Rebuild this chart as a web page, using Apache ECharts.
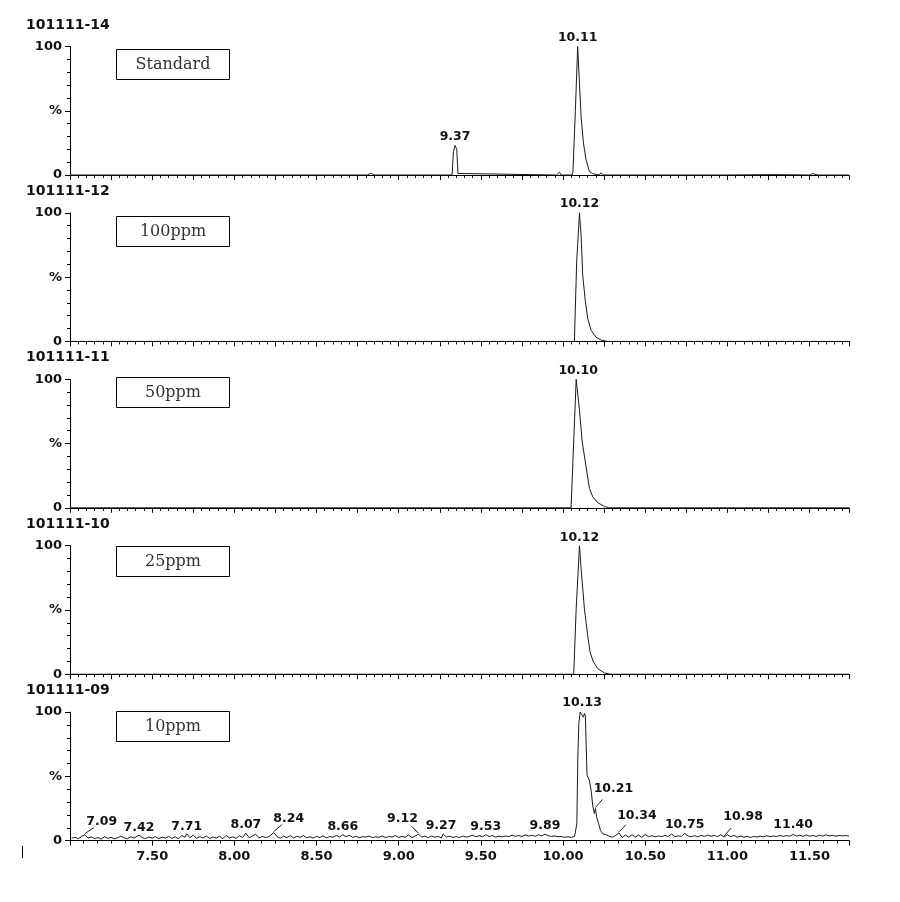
<!DOCTYPE html>
<html>
<head>
<meta charset="utf-8">
<script src="https://cdn.jsdelivr.net/npm/echarts@6/dist/echarts.min.js"></script>
<style>
html,body{margin:0;padding:0;background:#fff;}
#chart{width:900px;height:902px;}
</style>
</head>
<body>
<div id="chart"></div>
<script>
// ---------------- DATA ----------------
const panelNames = ['101111-14', '101111-12', '101111-11', '101111-10', '101111-09'];
const sampleNames = ['Standard', '100ppm', '50ppm', '25ppm', '10ppm'];
const xLabelsRange = [7.0, 11.74];

// retention time (min), relative intensity (%)
const traceStandard = [
  [7.00,0],[7.50,0],[8.00,0],[8.50,0],[8.81,0],[8.83,1.4],[8.85,0],
  [9.31,0],[9.325,0.3],[9.333,18],[9.343,23],[9.353,20],[9.361,1.2],[9.37,0],
  [9.96,0],[9.978,2.2],[9.99,0],[10.055,0],[10.060,2],[10.075,50],[10.089,100],
  [10.100,71],[10.110,45],[10.124,25],[10.140,12],[10.160,3],[10.181,1],[10.22,0],
  [10.232,1.8],[10.245,0],[10.60,0],[11.00,0],[11.28,0.3],[11.50,0],[11.52,1.1],
  [11.55,0],[11.74,0]
];
const trace100 = [
  [7.00,0],[9.00,0],[10.069,0],[10.083,62],[10.100,100],[10.110,82],[10.120,51],
  [10.136,31],[10.150,18],[10.171,8.5],[10.201,3.3],[10.232,1],[10.27,0],[11.74,0]
];
const trace50 = [
  [7.00,0],[9.00,0],[10.049,0],[10.065,52],[10.080,100],[10.089,99],[10.100,76],
  [10.116,52],[10.140,32],[10.161,15],[10.181,8.5],[10.211,4],[10.252,1],[10.28,0],[11.74,0]
];
const trace25 = [
  [7.00,0],[8.82,0],[8.83,1.2],[8.84,0],[10.065,0],[10.080,51],[10.100,100],
  [10.110,82],[10.130,51],[10.150,30],[10.165,17],[10.185,9.5],[10.211,4.4],[10.252,1],
  [10.29,0],[11.74,0]
];
const trace10 = [
  [7.01,1.8],[7.03,2.6],[7.05,1.5],[7.07,3.2],[7.09,4.6],[7.11,2.0],[7.13,2.8],[7.15,1.6],
  [7.17,2.4],[7.19,1.2],[7.21,3.0],[7.23,1.7],[7.25,2.5],[7.27,1.4],[7.29,2.2],[7.31,3.4],
  [7.33,2.1],[7.35,1.5],[7.37,3.0],[7.39,2.0],[7.42,4.2],[7.44,2.3],[7.46,1.6],[7.48,2.8],
  [7.50,1.9],[7.52,3.1],[7.54,1.5],[7.56,2.6],[7.58,2.0],[7.60,3.3],[7.62,1.7],[7.64,2.9],
  [7.66,1.4],[7.68,4.0],[7.70,2.6],[7.71,5.4],[7.73,2.2],[7.75,4.3],[7.77,1.8],[7.79,3.0],
  [7.81,2.1],[7.83,3.6],[7.85,1.6],[7.87,2.8],[7.89,2.0],[7.91,3.4],[7.93,1.5],[7.95,4.1],
  [7.97,2.0],[7.99,2.9],[8.01,1.7],[8.03,3.8],[8.05,2.4],[8.07,5.8],[8.09,2.2],[8.11,3.6],
  [8.13,5.0],[8.15,2.1],[8.17,3.3],[8.19,2.4],[8.21,3.0],[8.24,6.2],[8.26,3.1],[8.28,1.9],
  [8.30,3.5],[8.32,2.3],[8.34,4.0],[8.36,2.0],[8.38,3.4],[8.40,2.5],[8.42,3.9],[8.44,2.2],
  [8.46,3.0],[8.48,2.0],[8.50,3.3],[8.52,2.4],[8.54,3.6],[8.56,2.1],[8.58,3.2],[8.60,2.6],
  [8.62,4.0],[8.64,2.8],[8.66,4.6],[8.68,3.0],[8.70,4.2],[8.72,2.5],[8.74,3.4],[8.76,2.2],
  [8.78,3.1],[8.80,2.7],[8.82,3.5],[8.84,2.4],[8.86,3.0],[8.88,2.6],[8.90,3.6],[8.92,2.3],
  [8.94,3.2],[8.96,2.8],[8.98,3.9],[9.00,2.5],[9.02,3.3],[9.04,2.6],[9.06,4.4],[9.08,2.4],
  [9.10,3.5],[9.12,5.0],[9.14,2.8],[9.16,3.4],[9.18,2.2],[9.20,3.6],[9.22,2.6],[9.24,3.3],
  [9.26,2.0],[9.27,5.2],[9.29,2.7],[9.31,3.4],[9.33,2.5],[9.35,3.1],[9.37,2.4],[9.39,3.6],
  [9.41,2.7],[9.43,3.3],[9.45,4.2],[9.47,3.0],[9.49,3.8],[9.51,2.9],[9.53,4.6],[9.55,3.2],
  [9.57,3.9],[9.59,2.7],[9.61,3.4],[9.63,2.9],[9.65,3.6],[9.67,3.1],[9.69,4.3],[9.71,3.3],
  [9.73,4.0],[9.75,3.2],[9.77,4.4],[9.79,3.5],[9.81,4.1],[9.83,3.4],[9.85,4.6],[9.87,3.6],
  [9.89,5.0],[9.91,3.8],[9.93,3.3],[9.95,3.6],[9.97,3.0],[9.99,3.2],[10.01,2.6],[10.03,3.0],
  [10.05,2.5],[10.07,3.2],[10.080,2.6],[10.084,13],[10.090,65],[10.096,91],[10.104,100],
  [10.114,98],[10.124,96],[10.130,99],[10.136,97],[10.140,78],[10.146,51],[10.160,47],
  [10.171,39],[10.181,27],[10.191,21],[10.197,25],[10.205,18],[10.217,13],[10.228,7.8],
  [10.242,5.2],[10.262,4.7],[10.28,3.4],[10.30,2.6],[10.32,4.0],[10.34,6.0],[10.36,2.4],
  [10.38,4.3],[10.40,2.7],[10.42,4.6],[10.44,2.9],[10.46,4.2],[10.48,2.5],[10.50,4.8],
  [10.52,3.0],[10.54,3.8],[10.56,2.9],[10.58,3.6],[10.60,3.1],[10.62,4.0],[10.64,3.2],
  [10.66,5.2],[10.68,3.0],[10.70,3.7],[10.72,3.3],[10.74,5.6],[10.76,3.6],[10.78,3.0],
  [10.80,3.8],[10.82,2.9],[10.84,4.1],[10.86,3.2],[10.88,4.3],[10.90,3.4],[10.92,4.0],
  [10.94,3.1],[10.96,4.5],[10.98,2.8],[11.00,4.6],[11.02,3.0],[11.04,4.1],[11.06,2.6],
  [11.08,3.5],[11.10,2.7],[11.12,3.3],[11.14,2.5],[11.16,3.2],[11.18,2.8],[11.20,3.4],
  [11.22,2.9],[11.24,3.8],[11.26,3.0],[11.28,3.6],[11.30,3.2],[11.32,4.0],[11.34,3.3],
  [11.36,3.9],[11.38,3.4],[11.40,4.8],[11.42,3.5],[11.44,4.2],[11.46,3.3],[11.48,4.4],
  [11.50,3.4],[11.52,4.0],[11.54,3.2],[11.56,4.3],[11.58,3.5],[11.60,4.5],[11.62,3.6],
  [11.64,4.1],[11.66,3.4],[11.68,4.0],[11.70,3.7],[11.72,3.9],[11.74,3.6]
];
const traces = [traceStandard, trace100, trace50, trace25, trace10];

// peak annotations: [rt, intensity, label text]
const peaksStandard = [[9.343,23,'9.37'],[10.089,100,'10.11']];
const peaks100 = [[10.100,100,'10.12']];
const peaks50 = [[10.080,100,'10.10']];
const peaks25 = [[10.100,100,'10.12']];
const peaks10 = [
  [7.09,4.6,'7.09'],[7.42,4.2,'7.42'],[7.71,5.4,'7.71'],[8.07,5.8,'8.07'],[8.24,6.2,'8.24'],
  [8.66,4.6,'8.66'],[9.12,5.0,'9.12'],[9.27,5.2,'9.27'],[9.53,4.6,'9.53'],[9.89,5.0,'9.89'],
  [10.104,100,'10.13'],[10.197,25,'10.21'],[10.34,6.0,'10.34'],[10.74,5.6,'10.75'],
  [10.98,2.8,'10.98'],[11.40,4.8,'11.40']
];
const peaks = [peaksStandard, peaks100, peaks50, peaks25, peaks10];

// ---------------- LAYOUT / STYLE ----------------
// label offset in px from peak apex: [dx, dy, leaderDx, leaderDy] (leader null = none)
const labelLayouts = [
  [[0,-9,null,null],[0,-9,null,null]],
  [[0,-9,null,null]],
  [[2,-9,null,null]],
  [[0,-8,null,null]],
  [[17,-13,9,-7],[0,-7,null,null],[0,-7,null,null],[0,-8,null,null],[15,-14,8,-8],
   [0,-8,null,null],[-16,-15,-7,-8],[-2,-8,null,null],[0,-8,null,null],[0,-8,null,null],
   [2,-9,null,null],[18,-20,7,-9],[18,-17,7,-8],[0,-9,null,null],[19,-20,7,-9],[0,-10,null,null]]
];
const GRID_LEFT = 70, GRID_RIGHT = 51, GRID_TOP0 = 46.5, GRID_STEP = 166.4, GRID_H = 128.5;
const BOX_TOPS = [49, 216, 377, 546, 711];
const SANS = '"DejaVu Sans", sans-serif';
const INK = '#111';

const option = {
  animation: false,
  backgroundColor: '#ffffff',
  title: [], grid: [], xAxis: [], yAxis: [], series: [], graphic: []
};

for (let k = 0; k < 5; k++) {
  const top = GRID_TOP0 + k * GRID_STEP;
  const last = k === 4;
  option.grid.push({ left: GRID_LEFT, right: GRID_RIGHT, top: top, height: GRID_H });
  option.title.push({
    text: panelNames[k], left: 26, top: top - 28.5, padding: 0,
    textStyle: { fontFamily: SANS, fontWeight: 'bold', fontSize: 14, color: INK }
  });
  option.xAxis.push({
    type: 'value', gridIndex: k, min: xLabelsRange[0], max: xLabelsRange[1],
    interval: last ? 0.5 : 0.25,
    axisLine: { show: true, onZero: false, lineStyle: { color: '#000', width: 1 } },
    axisTick: { show: true, length: 5, lineStyle: { color: '#000', width: 1 } },
    minorTick: { show: true, splitNumber: last ? 6 : 5, length: 3, lineStyle: { color: '#000', width: 1 } },
    axisLabel: {
      show: last, showMinLabel: false, showMaxLabel: false, margin: 10,
      formatter: v => v.toFixed(2),
      fontFamily: SANS, fontWeight: 'bold', fontSize: 13, color: INK
    },
    splitLine: { show: false }, minorSplitLine: { show: false }
  });
  option.yAxis.push({
    type: 'value', gridIndex: k, min: 0, max: 100, interval: 50,
    axisLine: { show: true, onZero: false, lineStyle: { color: '#000', width: 1 } },
    axisTick: { show: true, length: 5, lineStyle: { color: '#000', width: 1 } },
    minorTick: { show: true, splitNumber: 5, length: 3, lineStyle: { color: '#000', width: 1 } },
    axisLabel: {
      margin: 8, formatter: v => (v === 50 ? '%' : String(v)),
      fontFamily: SANS, fontWeight: 'bold', fontSize: 13, color: INK
    },
    splitLine: { show: false }, minorSplitLine: { show: false }
  });
  option.series.push({
    type: 'line', xAxisIndex: k, yAxisIndex: k, data: traces[k],
    symbol: 'none', showSymbol: false, clip: false,
    lineStyle: { color: '#1a1a1a', width: 1 }, z: 3
  });
  const lay = labelLayouts[k];
  option.series.push({
    type: 'custom', xAxisIndex: k, yAxisIndex: k, data: peaks[k].map(p => [p[0], p[1]]),
    encode: { x: 0, y: 1 }, clip: false, z: 4,
    renderItem: function (params, api) {
      const i = params.dataIndex;
      const p = api.coord([api.value(0), api.value(1)]);
      const l = lay[i];
      const children = [];
      if (l[2] !== null) {
        children.push({
          type: 'line',
          shape: { x1: p[0], y1: p[1] - 1, x2: p[0] + l[2], y2: p[1] + l[3] },
          style: { stroke: '#222', lineWidth: 1 }
        });
      }
      children.push({
        type: 'text', x: p[0] + l[0], y: p[1] + l[1],
        style: {
          text: peaks[k][i][2], fill: INK,
          font: 'bold 12.5px "DejaVu Sans", sans-serif',
          align: 'center', verticalAlign: 'middle',
          textAlign: 'center', textVerticalAlign: 'middle'
        }
      });
      return { type: 'group', children: children };
    }
  });
  option.graphic.push({
    type: 'rect', shape: { x: 116.5, y: BOX_TOPS[k] + 0.5, width: 113, height: 30 },
    style: { fill: '#fff', stroke: '#000', lineWidth: 1 }, z: 10
  });
  option.graphic.push({
    type: 'text', x: 173, y: BOX_TOPS[k] + 16, z: 11,
    style: {
      text: sampleNames[k], fill: '#333', font: '16px "DejaVu Serif", serif',
      align: 'center', verticalAlign: 'middle', textAlign: 'center', textVerticalAlign: 'middle'
    }
  });
}
option.graphic.push({
  type: 'line', shape: { x1: 22.5, y1: 846, x2: 22.5, y2: 858 },
  style: { stroke: '#000', lineWidth: 1 }
});

const chart = echarts.init(document.getElementById('chart'), null, { renderer: 'canvas' });
chart.setOption(option);
</script>
</body>
</html>
